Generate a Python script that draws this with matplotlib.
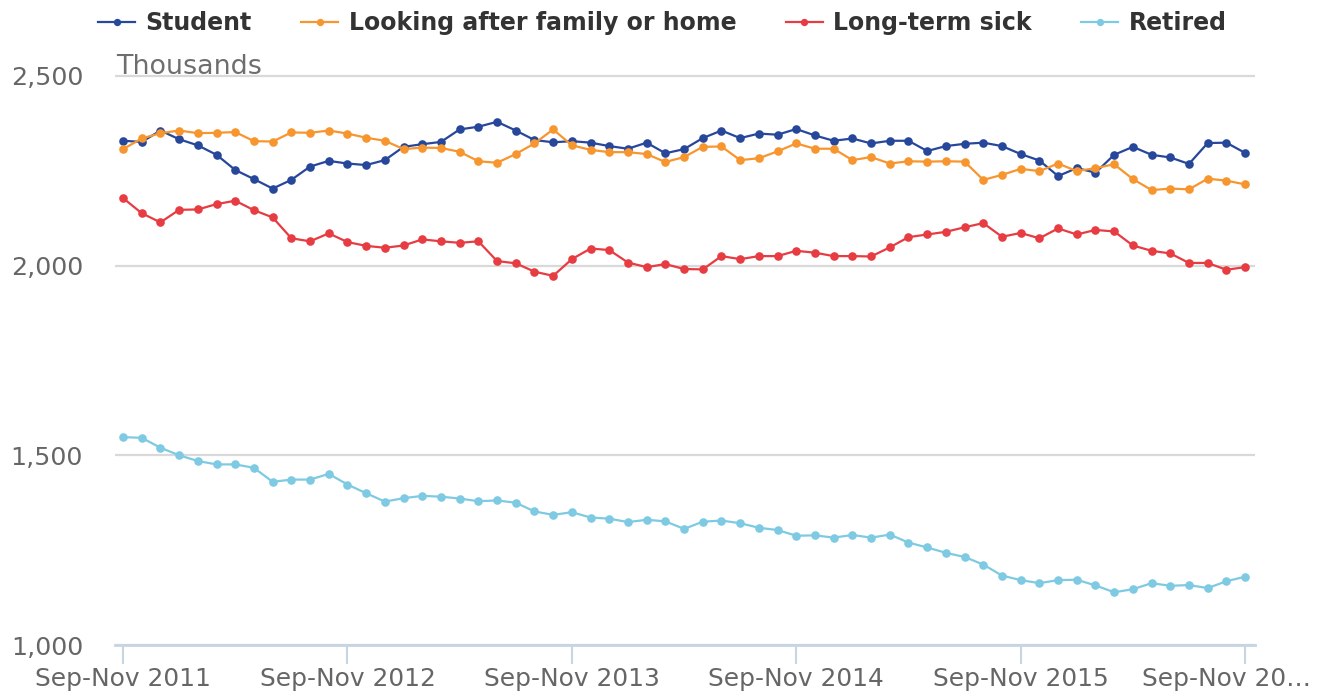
import numpy as np
import matplotlib
matplotlib.use("Agg")
import matplotlib.pyplot as plt
import matplotlib.transforms as mtransforms

# Economic inactivity by reason, thousands (rolling 3-month periods)
student = [2329, 2326, 2356, 2333, 2317, 2292, 2252, 2228, 2203, 2226,
           2261, 2276, 2269, 2265, 2278, 2313, 2320, 2326, 2359, 2366,
           2379, 2356, 2331, 2325, 2328, 2324, 2315, 2308, 2324, 2296,
           2307, 2336, 2356, 2336, 2348, 2345, 2360, 2343, 2329, 2335,
           2322, 2329, 2329, 2302, 2315, 2321, 2324, 2315, 2294, 2277,
           2236, 2257, 2245, 2292, 2313, 2292, 2285, 2268, 2323, 2324,
           2297]
family = [2307, 2335, 2349, 2356, 2349, 2350, 2352, 2328, 2327, 2351,
          2350, 2356, 2348, 2337, 2329, 2307, 2311, 2310, 2300, 2275,
          2271, 2294, 2322, 2359, 2317, 2305, 2299, 2299, 2294, 2273,
          2286, 2313, 2314, 2278, 2283, 2301, 2322, 2308, 2308, 2278,
          2286, 2269, 2275, 2274, 2275, 2274, 2226, 2239, 2255, 2249,
          2269, 2249, 2257, 2267, 2228, 2199, 2203, 2201, 2229, 2224,
          2214]
sick = [2178, 2138, 2114, 2147, 2148, 2162, 2171, 2146, 2127, 2072,
        2064, 2085, 2062, 2052, 2047, 2053, 2069, 2064, 2060, 2064,
        2012, 2006, 1984, 1973, 2017, 2045, 2041, 2008, 1996, 2004,
        1991, 1990, 2025, 2017, 2025, 2025, 2039, 2034, 2025, 2025,
        2024, 2048, 2075, 2082, 2089, 2101, 2112, 2076, 2086, 2072,
        2098, 2082, 2094, 2090, 2053, 2039, 2032, 2007, 2007, 1989,
        1996]
retired = [1548, 1546, 1520, 1500, 1485, 1476, 1476, 1467, 1430, 1436,
           1436, 1451, 1423, 1400, 1378, 1387, 1393, 1391, 1386, 1379,
           1381, 1375, 1352, 1343, 1350, 1336, 1333, 1324, 1330, 1326,
           1306, 1325, 1328, 1321, 1309, 1303, 1288, 1289, 1283, 1290,
           1283, 1291, 1270, 1257, 1243, 1232, 1212, 1183, 1171, 1163,
           1171, 1172, 1157, 1139, 1147, 1163, 1156, 1158, 1150, 1168,
           1180]

tick_pos = [0, 12, 24, 36, 48, 60]
tick_labels = ["Sep-Nov 2011", "Sep-Nov 2012", "Sep-Nov 2013",
               "Sep-Nov 2014", "Sep-Nov 2015", "Sep-Nov 20\u2026"]
y_ticks = [1000, 1500, 2000, 2500]

names = ["Student", "Looking after family or home", "Long-term sick", "Retired"]
colors = ["#27479b", "#f7962f", "#e63c42", "#7ecae3"]

x = np.arange(len(student))

fig = plt.figure(figsize=(13.25, 6.91), dpi=100)
ax = fig.add_axes([115 / 1325, 46 / 691, 1140 / 1325, (645 - 74) / 691])

for vals, name, c in zip([student, family, sick, retired], names, colors):
    ax.plot(x, vals, color=c, lw=1.6, marker="o", ms=6.2, mew=0, label=name)

ax.set_xlim(-0.43, 60.53)
ax.set_ylim(1000, 2505)
ax.set_yticks(y_ticks)
ax.set_yticklabels([f"{v:,}" for v in y_ticks])
ax.set_xticks(tick_pos)
ax.set_xticklabels(tick_labels)

ax.grid(axis="y", color="#d9d9d9", lw=1.6)
ax.set_axisbelow(True)
for s in ["left", "right", "top"]:
    ax.spines[s].set_visible(False)
ax.spines["bottom"].set_color("#c6d4e3")
ax.spines["bottom"].set_linewidth(2)

ax.tick_params(axis="y", length=0, pad=23, labelsize=18.2, labelcolor="#666666")
ax.tick_params(axis="x", length=14, width=1.5, color="#c6d4e3", pad=2,
               labelsize=17.9, labelcolor="#666666")

# last label is squeezed in from the right edge
last = ax.get_xticklabels()[-1]
last.set_transform(last.get_transform() +
                   mtransforms.ScaledTranslation(-19 / 100, 0, fig.dpi_scale_trans))

trans = mtransforms.blended_transform_factory(ax.transAxes, ax.transData)
ax.text(0.001, 2504, "Thousands", transform=trans, fontsize=19.4,
        color="#6e6e6e", va="baseline", ha="left")

leg = fig.legend(loc="center", bbox_to_anchor=(0.5, 1 - 23 / 691), ncol=4,
                 frameon=False, prop={"weight": "bold", "size": 17},
                 handlelength=1.55, handletextpad=0.45, columnspacing=2.1,
                 markerscale=0.85)
for t in leg.get_texts():
    t.set_color("#333333")

fig.savefig("out.png", dpi=100)
